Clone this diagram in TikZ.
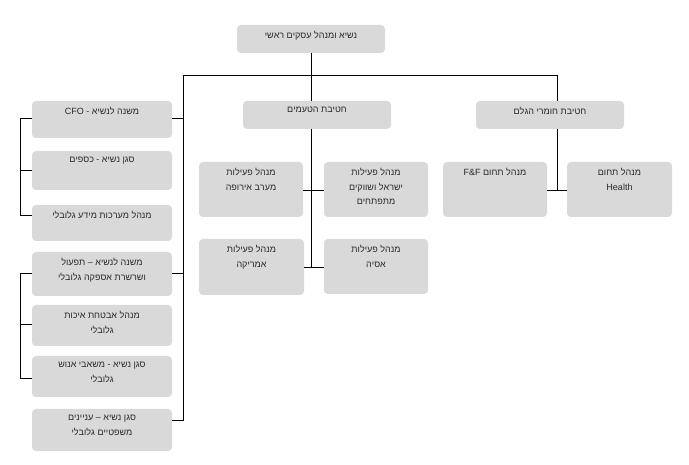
\documentclass[tikz,border=0pt]{standalone}
\usepackage{fontspec}
\setmainfont{Liberation Sans}
\TeXXeTstate=1
\newcommand{\RL}[1]{\beginR #1\endR}
\newcommand{\LR}[1]{\beginL #1\endL}
\definecolor{boxg}{RGB}{217,217,217}
\definecolor{txtg}{RGB}{40,40,40}
\tikzset{x=1pt,y=-1pt,
  boxst/.style={fill=boxg,rounded corners=4pt,draw=none},
  txtst/.style={anchor=north,inner sep=0pt,align=center,font=\fontsize{9}{14.5}\selectfont,text=txtg},
  ln/.style={draw=black,line width=0.9pt}}
\newcommand{\bx}[6]{%
  \path[boxst] (#2,#3) rectangle (#4,#5);
  \coordinate (#1) at ({(#2+#4)/2},{(#3+#5)/2});
  \node[txtst] (#1t) at ({(#2+#4)/2},{#3+6}) {#6};}
\begin{document}
\begin{tikzpicture}
\fill[white] (0,0) rectangle (689,465);
\bx{top}{237}{25}{385}{53}{\RL{נשיא ומנהל עסקים ראשי}}
\bx{taste}{243}{101}{391}{129}{\RL{חטיבת הטעמים}}
\bx{raw}{476}{101}{624}{129}{\RL{חטיבת חומרי הגלם}}
\bx{eu}{199}{162}{303}{217}{\RL{מנהל פעילות}\\\RL{מערב אירופה}}
\bx{il}{324}{162}{428}{217}{\RL{מנהל פעילות}\\\RL{ישראל ושווקים}\\\RL{מתפתחים}}
\bx{am}{199}{239}{304}{295}{\RL{מנהל פעילות}\\\RL{אמריקה}}
\bx{as}{324}{239}{428}{294}{\RL{מנהל פעילות}\\\RL{אסיה}}
\bx{ff}{443}{162}{547}{217}{\RL{מנהל תחום \LR{F\&F}}}
\bx{hl}{567}{162}{672}{217}{\RL{מנהל תחום}\\\LR{Health}}
\bx{cfo}{32}{101}{172}{138}{\RL{משנה לנשיא - \LR{CFO}}}
\bx{fin}{32}{151}{172}{190}{\RL{סגן נשיא - כספים}}
\bx{it}{32}{205}{172}{241}{\RL{מנהל מערכות מידע גלובלי}}
\bx{ops}{32}{252}{172}{296}{\RL{משנה לנשיא – תפעול}\\\RL{ושרשרת אספקה גלובלי}}
\bx{qa}{32}{305}{172}{346}{\RL{מנהל אבטחת איכות}\\\RL{גלובלי}}
\bx{hr}{32}{356}{172}{397}{\RL{סגן נשיא - משאבי אנוש}\\\RL{גלובלי}}
\bx{leg}{32}{409}{172}{451}{\RL{סגן נשיא – עניינים}\\\RL{משפטיים גלובלי}}
% connectors
\coordinate (busL) at (183,75); \coordinate (busR) at (557,75);
\draw[ln] (311,53) -- (311,101);
\draw[ln] (busL) -- (busR) -- (557,101);
\draw[ln] (busL) -- (183,420) -- (172,420);
\draw[ln] (183,118) -- (172,118);
\draw[ln] (183,273) -- (172,273);
\draw[ln] (311,129) -- (311,267);
\draw[ln] (303,190) -- (324,190);
\draw[ln] (304,267) -- (324,267);
\draw[ln] (557,129) -- (557,190);
\draw[ln] (547,190) -- (567,190);
\draw[ln] (32,118) -- (20,118) -- (20,215) -- (32,215);
\draw[ln] (20,170) -- (32,170);
\draw[ln] (32,273) -- (20,273) -- (20,378) -- (32,378);
\draw[ln] (20,324) -- (32,324);
\end{tikzpicture}
\end{document}
